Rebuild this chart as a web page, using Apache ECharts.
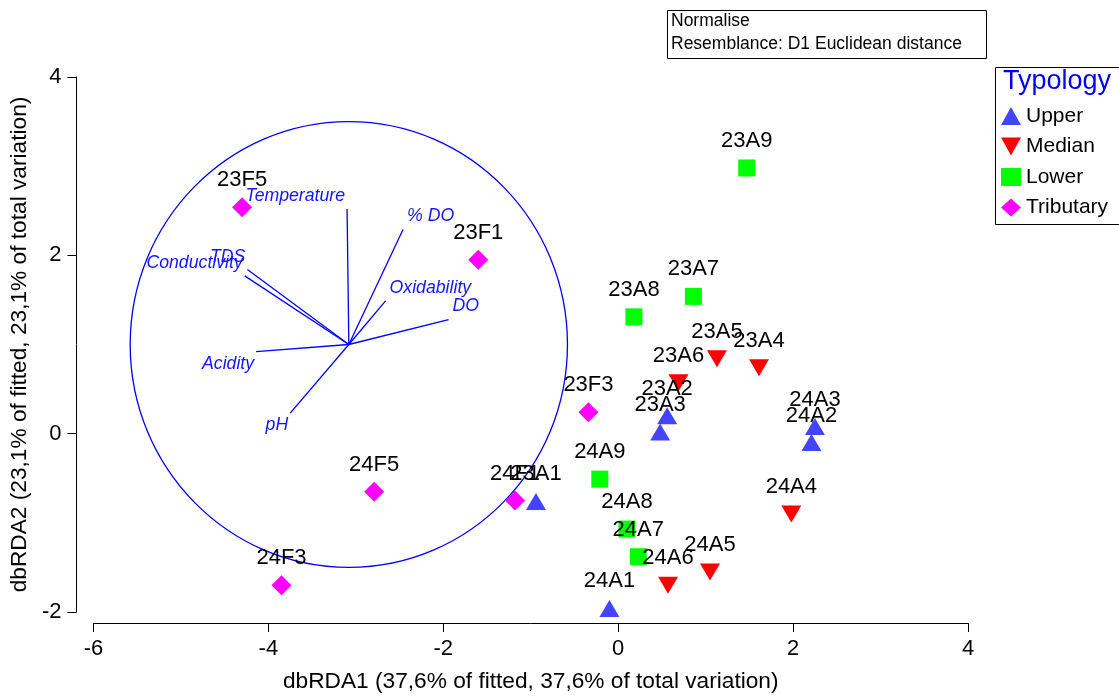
<!DOCTYPE html>
<html>
<head>
<meta charset="utf-8">
<script src="https://cdn.jsdelivr.net/npm/echarts@6/dist/echarts.min.js"></script>
<style>
  html, body { margin: 0; padding: 0; background: #fff; }
  #main { width: 1119px; height: 698px; }
</style>
</head>
<body>
<div id="main"></div>
<script>
// sites per typology (dbRDA1, dbRDA2)
var upperNames = ['23A1', '23A2', '23A3', '24A1', '24A2', '24A3'];
var upperX = [-0.94, 0.56, 0.48, -0.10, 2.21, 2.25];
var upperY = [-0.76, 0.20, 0.02, -1.96, -0.10, 0.08];

var medianNames = ['23A4', '23A5', '23A6', '24A4', '24A5', '24A6'];
var medianX = [1.61, 1.13, 0.69, 1.98, 1.05, 0.57];
var medianY = [0.74, 0.84, 0.57, -0.90, -1.55, -1.70];

var lowerNames = ['23A7', '23A8', '23A9', '24A7', '24A8', '24A9'];
var lowerX = [0.86, 0.18, 1.47, 0.23, 0.10, -0.21];
var lowerY = [1.54, 1.31, 2.98, -1.38, -1.07, -0.51];

var tribNames = ['23F1', '23F3', '23F5', '24F1', '24F3', '24F5'];
var tribX = [-1.60, -0.34, -4.30, -1.18, -3.85, -2.79];
var tribY = [1.95, 0.24, 2.54, -0.75, -1.70, -0.65];

// environmental vectors, relative to the circle centre
var vecNames = ['Temperature', '% DO', 'TDS', 'Conductivity', 'Oxidability', 'DO', 'Acidity', 'pH'];
var vecX = [-0.02, 0.62, -1.16, -1.19, 0.42, 1.14, -1.06, -0.67];
var vecY = [1.52, 1.29, 0.84, 0.77, 0.49, 0.28, -0.08, -0.77];
var vecOrigin = [-3.08, 1.00];
var circleRadius = 2.5;

var xTicks = [-6, 4, 2];   // min, max, interval
var yTicks = [-2, 4, 2];

var FONT = "'Liberation Sans', Arial, sans-serif";

function pts(xs, ys, names) {
  return xs.map(function (x, i) { return [x, ys[i], names[i]]; });
}

function pointSeries(name, data, symbol, size, color, rotate) {
  return {
    name: name,
    type: 'scatter',
    data: data,
    symbol: symbol,
    symbolSize: size,
    symbolRotate: rotate || 0,
    itemStyle: { color: color, opacity: 1 },
    label: {
      show: true,
      position: 'inside',
      offset: [0, -27],
      formatter: function (p) { return p.data[2]; },
      color: '#000',
      fontFamily: FONT,
      fontSize: 22
    },
    emphasis: { disabled: true },
    z: 5
  };
}

var chart = echarts.init(document.getElementById('main'));

var option = {
  animation: false,
  grid: { left: 93, right: 151, top: 77, bottom: 79 },
  xAxis: {
    type: 'value',
    min: xTicks[0], max: xTicks[1], interval: xTicks[2],
    offset: 11,
    name: 'dbRDA1 (37,6% of fitted, 37,6% of total variation)',
    nameLocation: 'middle',
    nameGap: 47,
    nameTextStyle: { color: '#000', fontFamily: FONT, fontSize: 22.7 },
    axisLine: { show: true, onZero: false, lineStyle: { color: '#000', width: 1 } },
    axisTick: { show: true, length: 9, lineStyle: { color: '#000' } },
    axisLabel: { color: '#000', fontFamily: FONT, fontSize: 22, margin: 15 },
    splitLine: { show: false }
  },
  yAxis: {
    type: 'value',
    min: yTicks[0], max: yTicks[1], interval: yTicks[2],
    offset: 17,
    name: 'dbRDA2 (23,1% of fitted, 23,1% of total variation)',
    nameLocation: 'middle',
    nameGap: 38,
    nameTextStyle: { color: '#000', fontFamily: FONT, fontSize: 22.7 },
    axisLine: { show: true, onZero: false, lineStyle: { color: '#000', width: 1 } },
    axisTick: { show: true, length: 9, lineStyle: { color: '#000' } },
    axisLabel: { color: '#000', fontFamily: FONT, fontSize: 22, margin: 15 },
    splitLine: { show: false }
  },
  legend: {
    orient: 'vertical',
    left: 996,
    top: 100,
    itemWidth: 20,
    itemHeight: 18,
    itemGap: 8.5,
    textStyle: { color: '#000', fontFamily: FONT, fontSize: 21, lineHeight: 22 },
    data: [
      { name: 'Upper', icon: 'triangle' },
      { name: 'Median', icon: 'path://M0,0 L10,0 L5,9 Z' },
      { name: 'Lower', icon: 'rect' },
      { name: 'Tributary', icon: 'diamond' }
    ],
    selectedMode: false
  },
  graphic: [
    {
      type: 'rect', left: 667, top: 10, z: 10,
      shape: { width: 319, height: 48 },
      style: { fill: '#fff', stroke: '#000', lineWidth: 1 }
    },
    {
      type: 'text', left: 671, top: 12, z: 11,
      style: { text: 'Normalise', fill: '#000', font: '17.5px ' + FONT }
    },
    {
      type: 'text', left: 671, top: 35, z: 11,
      style: { text: 'Resemblance: D1 Euclidean distance', fill: '#000', font: '17.5px ' + FONT }
    },
    {
      type: 'rect', left: 993, top: 65, z: 1,
      shape: { width: 125, height: 157 },
      style: { fill: 'none', stroke: '#000', lineWidth: 1 }
    },
    {
      type: 'text', left: 1003, top: 68, z: 11,
      style: { text: 'Typology', fill: '#0000ff', font: '27px ' + FONT }
    }
  ],
  series: [
    {
      // correlation circle
      type: 'custom',
      silent: true,
      data: [[vecOrigin[0], vecOrigin[1], circleRadius]],
      renderItem: function (params, api) {
        var c = api.coord([api.value(0), api.value(1)]);
        var s = api.size([api.value(2), api.value(2)]);
        return {
          type: 'ellipse',
          shape: { cx: c[0], cy: c[1], rx: s[0], ry: s[1] },
          style: { fill: 'none', stroke: '#0000ff', lineWidth: 1.3 }
        };
      },
      z: 2
    },
    {
      // vectors
      type: 'custom',
      silent: true,
      data: vecX.map(function (x, i) { return [x, vecY[i], i]; }),
      renderItem: function (params, api) {
        var i = api.value(2);
        var dx = api.value(0), dy = api.value(1);
        var o = api.coord(vecOrigin);
        var e = api.coord([vecOrigin[0] + dx, vecOrigin[1] + dy]);
        return {
          type: 'group',
          children: [
            {
              type: 'line',
              shape: { x1: o[0], y1: o[1], x2: e[0], y2: e[1] },
              style: { stroke: '#0000ff', lineWidth: 1.3 }
            },
            {
              type: 'text',
              x: e[0] + (dx < 0 ? -2 : 4),
              y: e[1] + (dy > 0 ? -13 : 12),
              style: {
                text: vecNames[i],
                fill: '#1414ff',
                font: 'italic 17.7px ' + FONT,
                align: dx < 0 ? 'right' : 'left',
                verticalAlign: 'middle'
              }
            }
          ]
        };
      },
      z: 3
    },
    pointSeries('Upper', pts(upperX, upperY, upperNames), 'triangle', [20, 17], '#4444ff'),
    pointSeries('Median', pts(medianX, medianY, medianNames), 'triangle', [20, 17], '#ff0000', 180),
    pointSeries('Lower', pts(lowerX, lowerY, lowerNames), 'rect', 17, '#00ff00'),
    pointSeries('Tributary', pts(tribX, tribY, tribNames), 'diamond', 20, '#ff00ff')
  ]
};

chart.setOption(option);
</script>
</body>
</html>
